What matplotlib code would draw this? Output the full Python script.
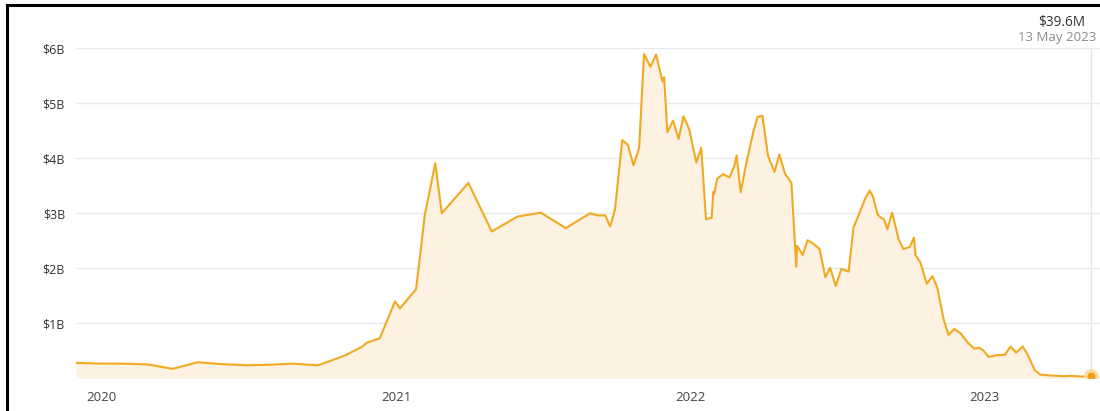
import pandas as pd
import matplotlib.pyplot as plt
from matplotlib.lines import Line2D

# Values (billions of USD)
dates = [
    '2019-11-30', '2019-12-29', '2020-01-27', '2020-02-27', '2020-03-29', '2020-04-29',
    '2020-05-30', '2020-06-29', '2020-07-28', '2020-08-25', '2020-09-25', '2020-10-10',
    '2020-10-29', '2020-11-19', '2020-11-25', '2020-12-11', '2020-12-30', '2021-01-05',
    '2021-01-25', '2021-01-30', '2021-02-05', '2021-02-18', '2021-02-26', '2021-03-31',
    '2021-04-29', '2021-05-31', '2021-06-29', '2021-07-30', '2021-08-29', '2021-09-08',
    '2021-09-17', '2021-09-23', '2021-09-29', '2021-10-08', '2021-10-15', '2021-10-22',
    '2021-10-29', '2021-11-04', '2021-11-12', '2021-11-19', '2021-11-27', '2021-11-29',
    '2021-12-03', '2021-12-10', '2021-12-17', '2021-12-23', '2021-12-30', '2022-01-08',
    '2022-01-14', '2022-01-20', '2022-01-27', '2022-01-29', '2022-01-30', '2022-02-03',
    '2022-02-10', '2022-02-18', '2022-02-24', '2022-02-27', '2022-03-04', '2022-03-11',
    '2022-03-20', '2022-03-25', '2022-03-31', '2022-04-07', '2022-04-15', '2022-04-21',
    '2022-04-28', '2022-05-06', '2022-05-12', '2022-05-13', '2022-05-20', '2022-05-26',
    '2022-06-02', '2022-06-10', '2022-06-17', '2022-06-23', '2022-06-30', '2022-07-07',
    '2022-07-16', '2022-07-22', '2022-07-28', '2022-08-05', '2022-08-11', '2022-08-15',
    '2022-08-21', '2022-08-25', '2022-08-29', '2022-09-02', '2022-09-08', '2022-09-16',
    '2022-09-22', '2022-09-30', '2022-10-05', '2022-10-07', '2022-10-13', '2022-10-21',
    '2022-10-28', '2022-11-03', '2022-11-11', '2022-11-17', '2022-11-24', '2022-12-02',
    '2022-12-11', '2022-12-19', '2022-12-25', '2022-12-30', '2023-01-06', '2023-01-14',
    '2023-01-26', '2023-02-02', '2023-02-09', '2023-02-17', '2023-02-23', '2023-03-04',
    '2023-03-11', '2023-03-24', '2023-04-09', '2023-04-18', '2023-04-30', '2023-05-13',
]
values = [
    0.285, 0.27, 0.27, 0.255, 0.175, 0.295,
    0.26, 0.24, 0.25, 0.27, 0.24, 0.315,
    0.42, 0.575, 0.65, 0.73, 1.40, 1.27,
    1.62, 2.22, 2.98, 3.91, 3.00, 3.55,
    2.67, 2.94, 3.01, 2.73, 3.00, 2.96,
    2.96, 2.76, 3.07, 4.33, 4.24, 3.87,
    4.19, 5.89, 5.66, 5.88, 5.39, 5.47,
    4.47, 4.68, 4.35, 4.76, 4.53, 3.92,
    4.19, 2.89, 2.92, 3.39, 3.35, 3.63,
    3.71, 3.65, 3.85, 4.05, 3.38, 3.91,
    4.50, 4.75, 4.77, 4.04, 3.75, 4.07,
    3.72, 3.55, 2.03, 2.41, 2.24, 2.51,
    2.45, 2.35, 1.84, 2.01, 1.68, 1.99,
    1.94, 2.74, 2.95, 3.25, 3.41, 3.31,
    2.98, 2.92, 2.89, 2.71, 3.01, 2.53,
    2.35, 2.39, 2.56, 2.24, 2.11, 1.72,
    1.86, 1.65, 1.07, 0.79, 0.90, 0.82,
    0.65, 0.54, 0.56, 0.51, 0.39, 0.42,
    0.43, 0.58, 0.47, 0.58, 0.44, 0.15,
    0.07, 0.055, 0.042, 0.048, 0.036, 0.0396,
]
y_ticks = [1, 2, 3, 4, 5, 6]
y_labels = ['$1B', '$2B', '$3B', '$4B', '$5B', '$6B']
year_ticks = ['2020-01-01', '2021-01-01', '2022-01-01', '2023-01-01']
year_labels = ['2020', '2021', '2022', '2023']
last_value_label = '$39.6M'
last_date_label = '13 May 2023'

plt.rcParams['font.family'] = ['Open Sans', 'DejaVu Sans']

x = pd.to_datetime(dates)
line_color = '#F2A922'
fill_color = '#FDF1E1'

fig = plt.figure(figsize=(11, 4.11), dpi=100)
ax = fig.add_axes([0.0691, 0.0791, 0.9309, 0.804])

ax.fill_between(x, values, 0, color=fill_color, linewidth=0)
ax.plot(x, values, color=line_color, linewidth=1.5)

# hover-style marker on the last point
ax.axvline(x[-1], color='#E6E6E6', linewidth=1, zorder=0)
ax.scatter([x[-1]], [values[-1]], s=110, color='#FAD9A0', zorder=4, linewidths=0)
ax.scatter([x[-1]], [values[-1]], s=32, color='#F39C12', zorder=5, linewidths=0)

ax.set_ylim(0, 6.0)
ax.set_xlim(pd.Timestamp('2019-11-30'), pd.Timestamp('2023-05-24'))

ax.set_yticks(y_ticks)
ax.set_yticklabels(y_labels)
ax.set_xticks(pd.to_datetime(year_ticks))
ax.set_xticklabels(year_labels)

ax.grid(axis='y', color='#E9E9E9', linewidth=1)
ax.set_axisbelow(True)
for s in ax.spines.values():
    s.set_visible(False)
ax.tick_params(axis='y', length=0, pad=8, labelsize=9, labelcolor='#333333')
ax.tick_params(axis='x', length=0, pad=9, labelsize=9.5, labelcolor='#444444')

# value and date of the highlighted point, top right
fig.text(0.9655, 0.945, last_value_label, ha='center', va='center', fontsize=9.8, color='#333333')
fig.text(0.961, 0.909, last_date_label, ha='center', va='center', fontsize=9.5, color='#8A8A8A')

# frame remnants at the left and top of the screenshot
fig.add_artist(Line2D([0.0064, 0.0064], [0, 0.988], color='black', linewidth=2.2))
fig.add_artist(Line2D([0.0064, 1.0], [0.988, 0.988], color='black', linewidth=2.2))

plt.savefig('out.png', dpi=100)
